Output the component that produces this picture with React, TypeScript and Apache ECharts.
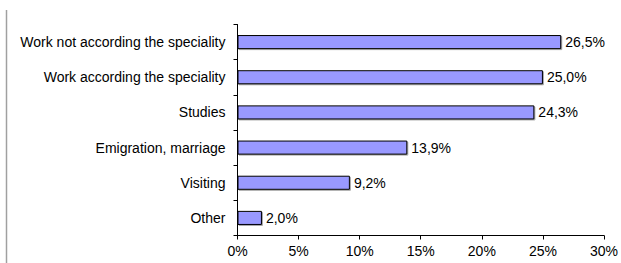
import React, { useEffect, useRef } from "react";
import * as echarts from "echarts";

const categories = [
  "Work not according the speciality",
  "Work according the speciality",
  "Studies",
  "Emigration, marriage",
  "Visiting",
  "Other",
];
const values = [26.5, 25.0, 24.3, 13.9, 9.2, 2.0];
const xTicks = [0, 5, 10, 15, 20, 25, 30];

export default function App() {
  const ref = useRef<HTMLDivElement>(null);
  useEffect(() => {
    if (!ref.current) return;
    const chart = echarts.init(ref.current, null, { renderer: "svg" });
    const font = "'Liberation Sans', Arial, sans-serif";
    chart.setOption({
      animation: false,
      backgroundColor: "#ffffff",
      graphic: [
        {
          type: "line",
          shape: { x1: 6.5, y1: 10, x2: 6.5, y2: 263 },
          style: { stroke: "#a0a0a0", lineWidth: 1.5 },
        },
      ],
      grid: { left: 237.5, right: 13, top: 24.5, bottom: 27.5, containLabel: false },
      xAxis: {
        type: "value",
        min: xTicks[0],
        max: xTicks[xTicks.length - 1],
        interval: 5,
        axisLine: { show: true, lineStyle: { color: "#000", width: 1 } },
        axisTick: { show: true, length: 4, lineStyle: { color: "#000" } },
        splitLine: { show: false },
        axisLabel: {
          color: "#000",
          fontFamily: font,
          fontSize: 14,
          margin: 8,
          formatter: (v: number) => `${v}%`,
        },
      },
      yAxis: {
        type: "category",
        data: categories,
        inverse: true,
        axisLine: { show: true, lineStyle: { color: "#000", width: 1 } },
        axisTick: { show: true, length: 4, lineStyle: { color: "#000" } },
        axisLabel: {
          color: "#000",
          fontFamily: font,
          fontSize: 14,
          margin: 12,
        },
      },
      series: [
        {
          type: "bar",
          data: values,
          barWidth: "40%",
          itemStyle: {
            color: "#9999ff",
            borderColor: "#000",
            borderWidth: 1,
            shadowColor: "rgba(0,0,0,0.35)",
            shadowOffsetX: 1,
            shadowOffsetY: 1,
            shadowBlur: 0,
          },
          label: {
            show: true,
            position: "right",
            distance: 4,
            color: "#000",
            fontFamily: font,
            fontSize: 14,
            formatter: (p: any) => `${p.value.toFixed(1).replace(".", ",")}%`,
          },
        },
      ],
    });
    return () => chart.dispose();
  }, []);
  return <div ref={ref} style={{ width: 621, height: 263, position: "absolute", left: 0, top: 0 }} />;
}
